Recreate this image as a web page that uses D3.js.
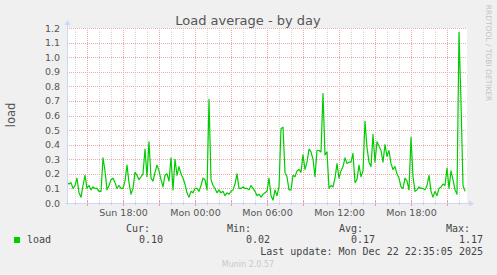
<!DOCTYPE html>
<html><head><meta charset="utf-8">
<script src="https://cdn.jsdelivr.net/npm/d3@7"></script>
<style>
html,body{margin:0;padding:0;background:#f0f0f0;}
svg{display:block;}
</style></head>
<body>
<script>
// ---- data ----
const graphTitle = "Load average - by day";
const seriesName = "load";
const startTime = new Date(2025, 11, 21, 13, 20); // Sun 13:20
const endTime = new Date(2025, 11, 22, 22, 40);   // Mon 22:40
const stepMinutes = 10;
const loadValues = [
 0.14,0.13,0.14,0.10,0.12,0.17,0.07,0.04,0.12,0.19,
 0.10,0.12,0.09,0.11,0.10,0.10,0.08,0.08,0.31,0.22,
 0.09,0.12,0.16,0.17,0.14,0.10,0.12,0.10,0.10,0.15,
 0.26,0.14,0.06,0.10,0.21,0.19,0.16,0.18,0.20,0.37,
 0.18,0.42,0.17,0.15,0.21,0.26,0.22,0.16,0.11,0.19,
 0.20,0.15,0.31,0.09,0.30,0.19,0.25,0.20,0.17,0.13,
 0.07,0.04,0.08,0.07,0.10,0.10,0.08,0.12,0.17,0.16,
 0.09,0.71,0.16,0.12,0.10,0.07,0.09,0.07,0.08,0.05,
 0.07,0.06,0.08,0.09,0.13,0.20,0.10,0.10,0.11,0.10,
 0.10,0.09,0.12,0.10,0.08,0.05,0.06,0.04,0.06,0.07,
 0.08,0.17,0.05,0.02,0.09,0.05,0.11,0.51,0.52,0.21,
 0.18,0.09,0.09,0.19,0.18,0.22,0.23,0.21,0.33,0.23,
 0.28,0.37,0.35,0.30,0.18,0.36,0.36,0.35,0.75,0.33,
 0.35,0.10,0.12,0.11,0.17,0.27,0.17,0.22,0.25,0.31,
 0.27,0.28,0.28,0.34,0.14,0.16,0.26,0.18,0.22,0.56,
 0.38,0.28,0.25,0.47,0.28,0.42,0.39,0.36,0.28,0.40,
 0.32,0.36,0.27,0.23,0.25,0.20,0.17,0.11,0.10,0.17,
 0.15,0.09,0.45,0.18,0.08,0.09,0.11,0.10,0.10,0.09,
 0.12,0.19,0.08,0.04,0.08,0.05,0.10,0.11,0.13,0.12,
 0.24,0.10,0.22,0.16,0.09,0.06,1.17,0.69,0.12,0.08
];
const yTicks = [0,0.1,0.2,0.3,0.4,0.5,0.6,0.7,0.8,0.9,1.0,1.1,1.2];
const legendHeaders = ["Cur:", "Min:", "Avg:", "Max:"];
const legendValues = ["0.10", "0.02", "0.17", "1.17"];
const lastUpdate = "Last update: Mon Dec 22 22:35:05 2025";
const footer = "Munin 2.0.57";
const sideText = "RRDTOOL / TOBI OETIKER";

// ---- layout ----
const W = 497, H = 275;
const L = 67, R = 467, T = 28, B = 203;
const data = loadValues.map((v, i) => ({t: new Date(startTime.getTime() + i * stepMinutes * 60000), v}));

const svg = d3.select("body").append("svg").attr("width", W).attr("height", H)
  .style("font-family", "'DejaVu Sans', sans-serif");
svg.append("rect").attr("width", W).attr("height", H).attr("fill", "#f0f0f0");

const x = d3.scaleTime().domain([startTime, endTime]).range([L, R]);
const y = d3.scaleLinear().domain([0, 1.2]).range([B, T]);

svg.append("rect").attr("x", L).attr("y", T).attr("width", R - L).attr("height", B - T).attr("fill", "#ffffff");

// grid
const hours = d3.timeHour.every(1).range(startTime, endTime);
const minorH = hours.filter(d => d.getHours() % 3 !== 0);
const majorH = hours.filter(d => d.getHours() % 3 === 0);
const labelH = hours.filter(d => d.getHours() % 6 === 0);

svg.append("g").selectAll("line").data(minorH).join("line")
  .attr("x1", d => Math.round(x(d)) + 0.5).attr("x2", d => Math.round(x(d)) + 0.5)
  .attr("y1", T).attr("y2", B)
  .attr("stroke", "#d6d6d6").attr("stroke-dasharray", "1,1");
svg.append("g").selectAll("line").data(majorH).join("line")
  .attr("x1", d => Math.round(x(d)) + 0.5).attr("x2", d => Math.round(x(d)) + 0.5)
  .attr("y1", T).attr("y2", B)
  .attr("stroke", "#eeaaaa").attr("stroke-dasharray", "1,1");
svg.append("g").selectAll("line").data(yTicks.slice(1)).join("line")
  .attr("x1", L).attr("x2", R)
  .attr("y1", d => Math.round(y(d)) + 0.5).attr("y2", d => Math.round(y(d)) + 0.5)
  .attr("stroke", "#eeaaaa").attr("stroke-dasharray", "1,1");

// tick marks on axis
svg.append("g").selectAll("line").data(minorH).join("line")
  .attr("x1", d => Math.round(x(d)) + 0.5).attr("x2", d => Math.round(x(d)) + 0.5)
  .attr("y1", B - 1).attr("y2", B + 2).attr("stroke", "#c8c8c8");
svg.append("g").selectAll("line").data(majorH).join("line")
  .attr("x1", d => Math.round(x(d)) + 0.5).attr("x2", d => Math.round(x(d)) + 0.5)
  .attr("y1", B - 2).attr("y2", B + 3).attr("stroke", "#e89a9a");

// series line
const line = d3.line().x(d => x(d.t)).y(d => y(d.v));
svg.append("path").datum(data).attr("d", line)
  .attr("fill", "none").attr("stroke", "#00cc00").attr("stroke-width", 1.2)
  .attr("stroke-linejoin", "round");

// axes lines + arrows
const axisCol = "#cfd6f8";
svg.append("line").attr("x1", L + 0.5).attr("x2", L + 0.5).attr("y1", T - 4).attr("y2", B + 2).attr("stroke", axisCol);
svg.append("line").attr("x1", L - 2).attr("x2", R + 4).attr("y1", B + 0.5).attr("y2", B + 0.5).attr("stroke", axisCol);
svg.append("path").attr("d", `M${L - 2.5},${T - 3} L${L + 3.5},${T - 3} L${L + 0.5},${T - 8} Z`).attr("fill", axisCol);
svg.append("path").attr("d", `M${R + 2},${B - 2.5} L${R + 2},${B + 3.5} L${R + 7},${B + 0.5} Z`).attr("fill", axisCol);

// y axis labels
const yAxis = d3.axisLeft(y).tickValues(yTicks).tickFormat(d3.format(".1f")).tickSize(0).tickPadding(0);
const gy = svg.append("g").attr("transform", `translate(${L - 7},0)`).call(yAxis);
gy.select(".domain").remove();
gy.selectAll("text").attr("fill", "#555").style("font-size", "9.5px").style("font-family", "'DejaVu Sans', sans-serif");

// x axis labels
const fmt = d3.timeFormat("%a %H:%M");
const xAxis = d3.axisBottom(x).tickValues(labelH).tickFormat(fmt).tickSize(0).tickPadding(0);
const gx = svg.append("g").attr("transform", `translate(0,${B + 6})`).call(xAxis);
gx.select(".domain").remove();
gx.selectAll("text").attr("fill", "#555").style("font-size", "9.5px").style("font-family", "'DejaVu Sans', sans-serif");

// title
svg.append("text").attr("x", 248).attr("y", 25).attr("text-anchor", "middle")
  .attr("fill", "#555").style("font-size", "13px").text(graphTitle);

// y label
svg.append("text").attr("transform", "translate(14.5,115) rotate(-90)").attr("text-anchor", "middle")
  .attr("fill", "#555").style("font-size", "11.5px").text(seriesName);

// side text
svg.append("text").attr("transform", "translate(486,53) rotate(90)").attr("text-anchor", "middle")
  .attr("fill", "#c4c4c4").style("font-size", "7.5px").text(sideText);

// legend
const mono = "'DejaVu Sans Mono', monospace";
svg.append("rect").attr("x", 14).attr("y", 237).attr("width", 6).attr("height", 6).attr("fill", "#00cc00");
svg.append("text").attr("x", 27).attr("y", 243).attr("fill", "#444").style("font-family", mono).style("font-size", "10px").text(seriesName);
const headerRight = [150, 251, 363, 470];
const valueRight = [163, 270, 375, 483];
svg.append("g").selectAll("text").data(legendHeaders).join("text")
  .attr("x", (d, i) => headerRight[i]).attr("y", 232).attr("text-anchor", "end")
  .attr("fill", "#444").style("font-family", mono).style("font-size", "10px").text(d => d);
svg.append("g").selectAll("text").data(legendValues).join("text")
  .attr("x", (d, i) => valueRight[i]).attr("y", 243).attr("text-anchor", "end")
  .attr("fill", "#444").style("font-family", mono).style("font-size", "10px").text(d => d);
svg.append("text").attr("x", 483).attr("y", 255).attr("text-anchor", "end")
  .attr("fill", "#444").style("font-family", mono).style("font-size", "10px").text(lastUpdate);
svg.append("text").attr("x", 248).attr("y", 267).attr("text-anchor", "middle")
  .attr("fill", "#c8c8c8").style("font-size", "8px").text(footer);
</script>
</body></html>
